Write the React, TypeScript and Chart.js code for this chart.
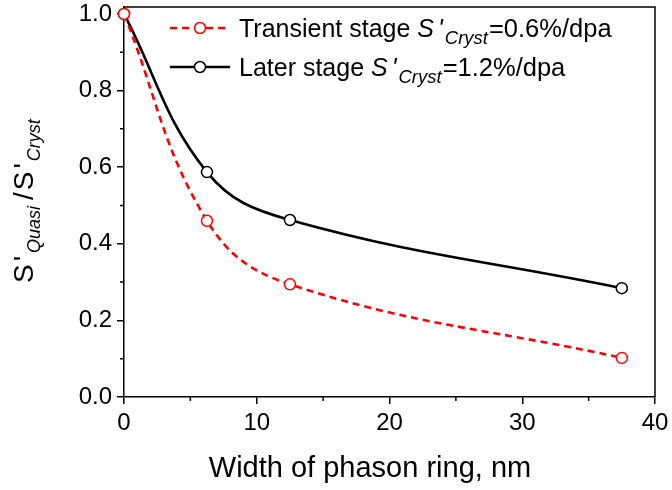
import React, { useEffect, useRef } from 'react';
import { Chart, registerables } from 'chart.js';

Chart.register(...registerables);

const widths = [0, 6.25, 12.5, 37.5];
const transientValues = [1.0, 0.46, 0.294, 0.102];
const laterValues = [1.0, 0.587, 0.462, 0.284];
const xMajorTicks = [0, 10, 20, 30, 40];
const xMinorTicks = [5, 15, 25, 35];
const yMajorTicks = [0, 0.2, 0.4, 0.6, 0.8, 1.0];
const yMinorTicks = [0.1, 0.3, 0.5, 0.7, 0.9];
const legendRows = [
  { prefix: 'Transient stage ', value: '=0.6%/dpa' },
  { prefix: 'Later stage ', value: '=1.2%/dpa' },
];
const xTitle = 'Width of phason ring, nm';

const FONT = "'Liberation Sans', Arial, Helvetica, sans-serif";
const RED = '#ff0000';
const BLACK = '#000000';

type Run = { text: string; size: number; italic?: boolean; dy?: number; gap?: number };

function drawRuns(ctx: CanvasRenderingContext2D, runs: Run[], x: number, y: number) {
  for (const r of runs) {
    ctx.font = `${r.italic ? 'italic ' : ''}${r.size}px ${FONT}`;
    ctx.fillText(r.text, x, y + (r.dy || 0));
    x += ctx.measureText(r.text).width + (r.gap || 0);
  }
}

const decorPlugin = {
  id: 'decor',
  afterDraw(chart: any) {
    const ctx: CanvasRenderingContext2D = chart.ctx;
    const { left, right, top, bottom } = chart.chartArea;
    const xs = chart.scales.x;
    const ys = chart.scales.y;
    ctx.save();
    ctx.strokeStyle = BLACK;
    ctx.lineWidth = 1.5;
    ctx.setLineDash([]);
    ctx.beginPath();
    ctx.moveTo(left, top);
    ctx.lineTo(right, top);
    ctx.lineTo(right, bottom);
    ctx.stroke();
    ctx.beginPath();
    xMinorTicks.forEach((v) => {
      const px = xs.getPixelForValue(v);
      ctx.moveTo(px, bottom);
      ctx.lineTo(px, bottom + 4);
    });
    yMinorTicks.forEach((v) => {
      const py = ys.getPixelForValue(v);
      ctx.moveTo(left, py);
      ctx.lineTo(left - 4, py);
    });
    ctx.stroke();

    // legend
    ctx.fillStyle = BLACK;
    ctx.textBaseline = 'alphabetic';
    ctx.textAlign = 'left';
    const rowY = [28, 67];
    chart.data.datasets.forEach((ds: any, i: number) => {
      const y = rowY[i];
      ctx.save();
      ctx.strokeStyle = ds.borderColor;
      ctx.lineWidth = ds.borderWidth;
      ctx.setLineDash(ds.borderDash || []);
      ctx.beginPath();
      ctx.moveTo(170, y);
      ctx.lineTo(230, y);
      ctx.stroke();
      ctx.setLineDash([]);
      ctx.beginPath();
      ctx.arc(200, y, ds.pointRadius, 0, Math.PI * 2);
      ctx.fillStyle = '#ffffff';
      ctx.fill();
      ctx.lineWidth = ds.pointBorderWidth;
      ctx.strokeStyle = ds.pointBorderColor;
      ctx.stroke();
      ctx.restore();
      ctx.fillStyle = BLACK;
      const row = legendRows[i];
      drawRuns(
        ctx,
        [
          { text: row.prefix, size: 25 },
          { text: 'S', size: 25, italic: true, gap: 4 },
          { text: "'", size: 25, italic: true, gap: 2 },
          { text: 'Cryst', size: 18.5, italic: true, dy: 7, gap: 1 },
          { text: row.value, size: 25.5 },
        ],
        239,
        y + 9
      );
    });

    // x title
    ctx.font = `29px ${FONT}`;
    ctx.textAlign = 'center';
    ctx.fillText(xTitle, 370, 477);

    // y title
    ctx.textAlign = 'left';
    ctx.save();
    ctx.translate(33, 283);
    ctx.rotate(-Math.PI / 2);
    drawRuns(
      ctx,
      [
        { text: 'S', size: 28, gap: 3 },
        { text: "'", size: 28, gap: 3 },
        { text: 'Quasi', size: 18, italic: true, dy: 7, gap: 6 },
        { text: '/', size: 28, gap: 2 },
        { text: 'S', size: 28, gap: 3 },
        { text: "'", size: 28, gap: 2 },
        { text: 'Cryst', size: 18, italic: true, dy: 7 },
      ],
      0,
      0
    );
    ctx.restore();
    ctx.restore();
  },
};

export default function App() {
  const ref = useRef<HTMLCanvasElement | null>(null);
  useEffect(() => {
    document.body.style.margin = '0';
    const canvas = ref.current;
    if (!canvas) return;
    const pointStyle = {
      pointRadius: 5.5,
      pointHoverRadius: 5.5,
      pointBackgroundColor: '#ffffff',
      pointBorderWidth: 1.5,
      borderWidth: 2.6,
      tension: 0.4,
      clip: false as any,
      fill: false,
    };
    const chart = new Chart(canvas, {
      type: 'line',
      data: {
        datasets: [
          {
            label: 'Transient stage',
            data: widths.map((x, i) => ({ x, y: transientValues[i] })),
            borderColor: RED,
            pointBorderColor: RED,
            borderDash: [7, 5],
            ...pointStyle,
          },
          {
            label: 'Later stage',
            data: widths.map((x, i) => ({ x, y: laterValues[i] })),
            borderColor: BLACK,
            pointBorderColor: BLACK,
            ...pointStyle,
          },
        ],
      },
      options: {
        responsive: false,
        animation: false,
        layout: { padding: { left: 0, right: 17, top: 3, bottom: 0 } },
        plugins: {
          legend: { display: false },
          tooltip: { enabled: false },
        },
        scales: {
          x: {
            type: 'linear',
            min: 0,
            max: 40,
            afterBuildTicks: (s: any) => {
              s.ticks = xMajorTicks.map((v) => ({ value: v }));
            },
            afterFit: (s: any) => {
              s.height = 93;
              s.paddingLeft = 0;
              s.paddingRight = 0;
            },
            grid: {
              drawOnChartArea: false,
              drawTicks: true,
              tickLength: 7,
              color: BLACK,
              lineWidth: 1.5,
            },
            border: { display: true, color: BLACK, width: 1.5 },
            ticks: {
              color: BLACK,
              font: { family: FONT, size: 24 },
              padding: 5,
              maxRotation: 0,
              autoSkip: false,
            },
          },
          y: {
            type: 'linear',
            min: 0,
            max: 1.018,
            afterBuildTicks: (s: any) => {
              s.ticks = yMajorTicks.map((v) => ({ value: v }));
            },
            afterFit: (s: any) => {
              s.width = 124;
              s.paddingTop = 0;
              s.paddingBottom = 0;
            },
            grid: {
              drawOnChartArea: false,
              drawTicks: true,
              tickLength: 7,
              color: BLACK,
              lineWidth: 1.5,
            },
            border: { display: true, color: BLACK, width: 1.5 },
            ticks: {
              color: BLACK,
              font: { family: FONT, size: 24 },
              padding: 5,
              callback: (v: any) => Number(v).toFixed(1),
            },
          },
        },
      },
      plugins: [decorPlugin],
    });
    return () => chart.destroy();
  }, []);
  return (
    <div style={{ width: 672, height: 490 }}>
      <canvas ref={ref} width={672} height={490} style={{ display: 'block' }} />
    </div>
  );
}
